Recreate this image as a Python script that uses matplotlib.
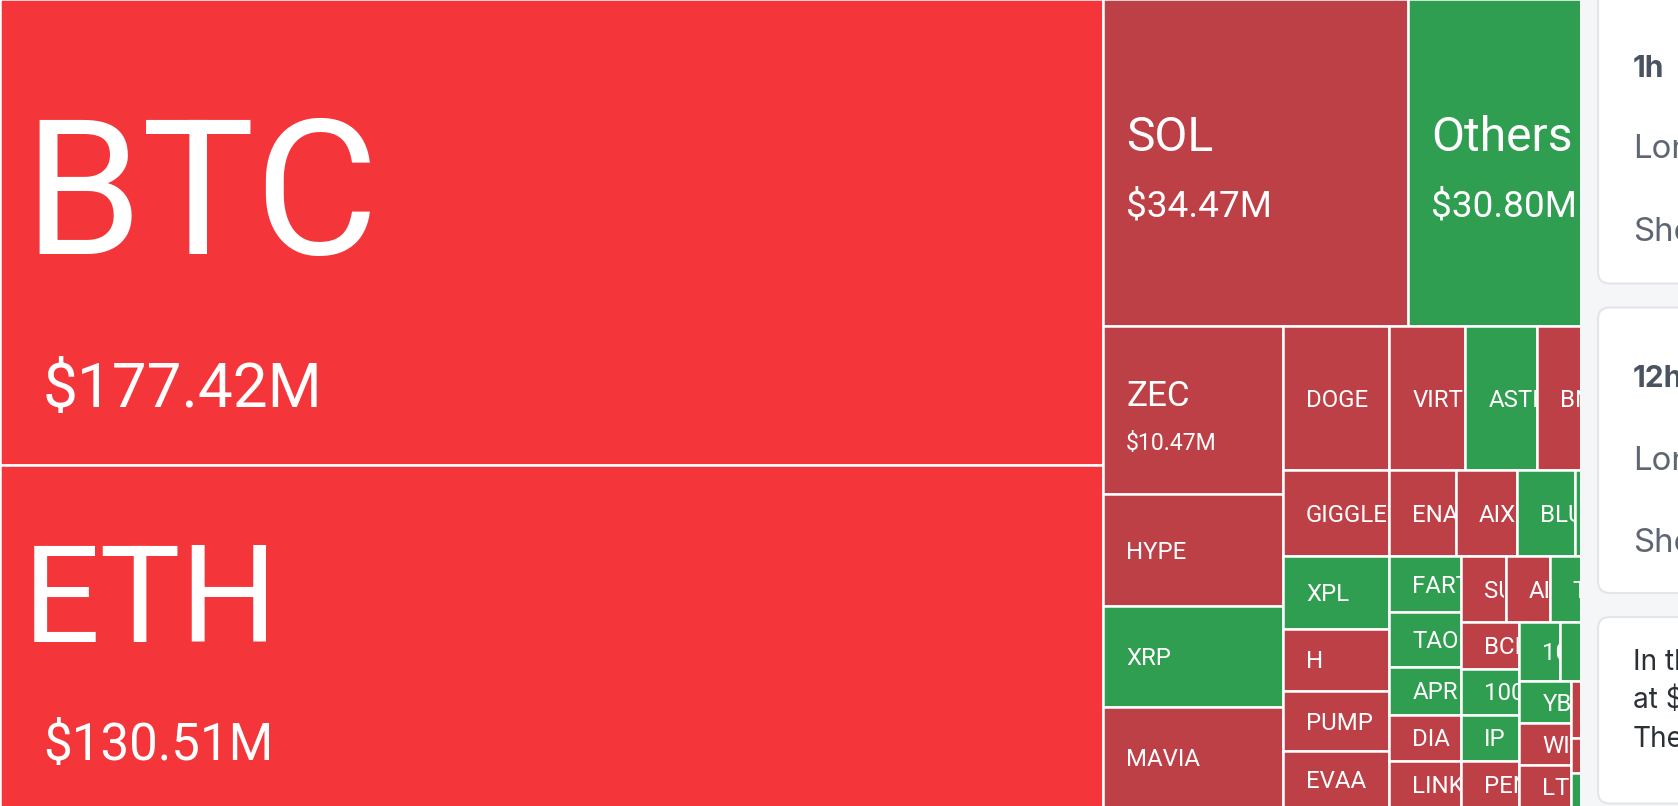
import matplotlib.pyplot as plt
from matplotlib.patches import Rectangle, FancyBboxPatch

# liquidations per coin in $M, read off the tiles (names cut at the right edge
# completed, tiles hidden behind the side panel estimated)
coins = ['BTC', 'ETH', 'SOL', 'Others', 'ZEC', 'HYPE', 'XRP', 'MAVIA',
         'DOGE', 'VIRTUAL', 'ASTER', 'BNB', 'WLFI',
         'GIGGLE', 'XPL', 'H', 'PUMP', 'EVAA',
         'ENA', 'AIXBT', 'BLUR', 'ONDO', 'AVAX',
         'FARTCOIN', 'TAO', 'APR', 'DIA', 'LINK',
         'SUI', 'ADA', 'TRX', 'UNI', 'ARB',
         'BCH', '1000PEPE', 'IP', 'PENGU',
         '1000BONK', 'SEI', 'CRV', 'APT',
         'YB', 'WIF', 'LTC',
         'DOT', 'ETC', 'FIL', 'INJ', 'ATOM', 'NEAR', 'OP']
values = [177.42, 130.51, 34.47, 30.80, 10.47, 6.91, 6.32, 6.20,
          5.31, 3.78, 3.60, 3.59, 3.58,
          3.13, 2.69, 2.28, 2.21, 2.05,
          1.97, 1.81, 1.71, 1.57, 1.56,
          1.40, 1.35, 1.19, 1.15, 1.14,
          1.015, 1.01, 1.005, 1.0, 1.0,
          0.932, 0.930, 0.928, 0.925,
          0.825, 0.82, 0.815, 0.81,
          0.76, 0.755, 0.75,
          0.74, 0.72, 0.70, 0.68, 0.67, 0.65, 0.62]
# L = mostly longs liquidated, S = mostly shorts
sides = ['L', 'L', 'L', 'S', 'L', 'L', 'S', 'L',
         'L', 'L', 'S', 'L', 'L',
         'L', 'S', 'L', 'L', 'L',
         'L', 'L', 'S', 'S', 'L',
         'S', 'S', 'S', 'L', 'L',
         'L', 'L', 'S', 'L', 'S',
         'L', 'S', 'S', 'L',
         'S', 'S', 'L', 'S',
         'S', 'L', 'L',
         'L', 'S', 'L', 'L', 'S', 'L', 'S']

RED_HOT = '#f4363b'
RED = '#be4047'
GREEN = '#2f9e51'
hot = {'BTC', 'ETH'}

PX = 0.72  # points per pixel at dpi 100

# name size, value size, baseline offsets from tile centre, value indent (px)
big_labels = {
    'BTC': (190, 62, 22, 175, 20),
    'ETH': (136, 51, 6, 124, 20),
    'SOL': (48, 37, -11, 54, 0),
    'Others': (48, 37, -11, 54, 0),
    'ZEC': (35, 23, -4, 40, 0),
}
SMALL = 24
PAD = 23


# echarts style squarify (squareRatio = golden ratio)
def worst(areas, row_area, fixed, ratio):
    sq = row_area * row_area
    f = fixed * fixed * ratio
    return max(f * max(areas) / sq, sq / (f * min(areas)))


def place(row, row_area, fixed, rect, areas, out, flush):
    horiz = fixed == rect[2]
    other = row_area / fixed if fixed else 0
    span = rect[3] if horiz else rect[2]
    if flush or other > span:
        other = span
    last = rect[0] if horiz else rect[1]
    end = last + (rect[2] if horiz else rect[3])
    for k, j in enumerate(row):
        step = areas[j] / other if other else 0
        remain = end - last
        size = remain if (k == len(row) - 1 or remain < step) else step
        if horiz:
            out[j] = (last, rect[1], size, other)
        else:
            out[j] = (rect[0], last, other, size)
        last += size
    if horiz:
        rect[1] += other
        rect[3] -= other
    else:
        rect[0] += other
        rect[2] -= other


def squarify(vals, x, y, w, h, ratio=0.5 * (1 + 5 ** 0.5)):
    total = sum(vals)
    areas = [v / total * w * h for v in vals]
    rect = [x, y, w, h]
    out = [None] * len(vals)
    fixed = min(w, h)
    row, row_area, best = [], 0.0, float('inf')
    i = 0
    while i < len(areas):
        row.append(i)
        row_area += areas[i]
        score = worst([areas[j] for j in row], row_area, fixed, ratio)
        if score <= best:
            i += 1
            best = score
        else:
            row.pop()
            row_area -= areas[i]
            place(row, row_area, fixed, rect, areas, out, False)
            fixed = min(rect[2], rect[3])
            row, row_area, best = [], 0.0, float('inf')
    if row:
        place(row, row_area, fixed, rect, areas, out, True)
    return out


fig = plt.figure(figsize=(16.78, 8.06), dpi=100)
ax = fig.add_axes([0, 0, 1, 1])
ax.set_xlim(0, 1678)
ax.set_ylim(806, 0)
ax.axis('off')

tiles = squarify(values, 0, -1, 1681, 808)

for name, val, side, (x, y, w, h) in zip(coins, values, sides, tiles):
    if side == 'S':
        color = GREEN
    else:
        color = RED_HOT if name in hot else RED
    rect = Rectangle((x, y), w, h, facecolor=color, edgecolor='white',
                     linewidth=1.8, zorder=1)
    ax.add_patch(rect)
    # inner area used to cut labels at the tile border
    inner = Rectangle((x + 1.2, y + 1.2), w - 2.4, h - 2.4,
                      transform=ax.transData, visible=False)
    ax.add_patch(inner)
    cy = y + h / 2
    if name in big_labels:
        ns, vs, dn, dv, ind = big_labels[name]
        t1 = ax.text(x + PAD, cy + dn, name, fontsize=ns * PX, color='white',
                     family='Roboto', va='baseline', ha='left', zorder=2,
                     clip_on=True)
        t2 = ax.text(x + PAD + ind, cy + dv, f'${val:.2f}M', fontsize=vs * PX,
                     color='white', family='Roboto', va='baseline',
                     ha='left', zorder=2, clip_on=True)
        t1.set_clip_path(inner)
        t2.set_clip_path(inner)
    else:
        t = ax.text(x + PAD, cy + 0.711 * SMALL / 2, name,
                    fontsize=SMALL * PX, color='white', family='Roboto',
                    va='baseline', ha='left', zorder=2, clip_on=True)
        t.set_clip_path(inner)

# side panel covering the right end of the treemap
ax.add_patch(Rectangle((1579.5, -5), 200, 820, facecolor='#f5f6f8',
                       edgecolor='none', zorder=5))
for top, bottom in [(-40, 283.5), (307.5, 593), (617, 803.5)]:
    ax.add_patch(FancyBboxPatch((1598, top), 200, bottom - top,
                                boxstyle='round,pad=0,rounding_size=12',
                                facecolor='white', edgecolor='#e3e5e9',
                                linewidth=1.5, zorder=6))

head = dict(family='Inter', fontsize=30 * PX, fontweight='bold',
            color='#4a5361', va='baseline', zorder=7)
body = dict(family='Inter', fontsize=33 * PX, color='#5e6672',
            va='baseline', zorder=7)
note = dict(family='Inter', fontsize=28 * PX, color='#2b3036',
            va='baseline', zorder=7)
ax.text(1633, 77, '1h', **head)
ax.text(1633, 158, 'Long', **body)
ax.text(1633, 241, 'Short', **body)
ax.text(1633, 387, '12h', **head)
ax.text(1633, 470, 'Long', **body)
ax.text(1633, 552, 'Short', **body)
ax.text(1633, 670, 'In the past 24 hours', **note)
ax.text(1633, 708, 'at $', **note)
ax.text(1633, 747, 'The', **note)

fig.savefig('out.png', dpi=100)
